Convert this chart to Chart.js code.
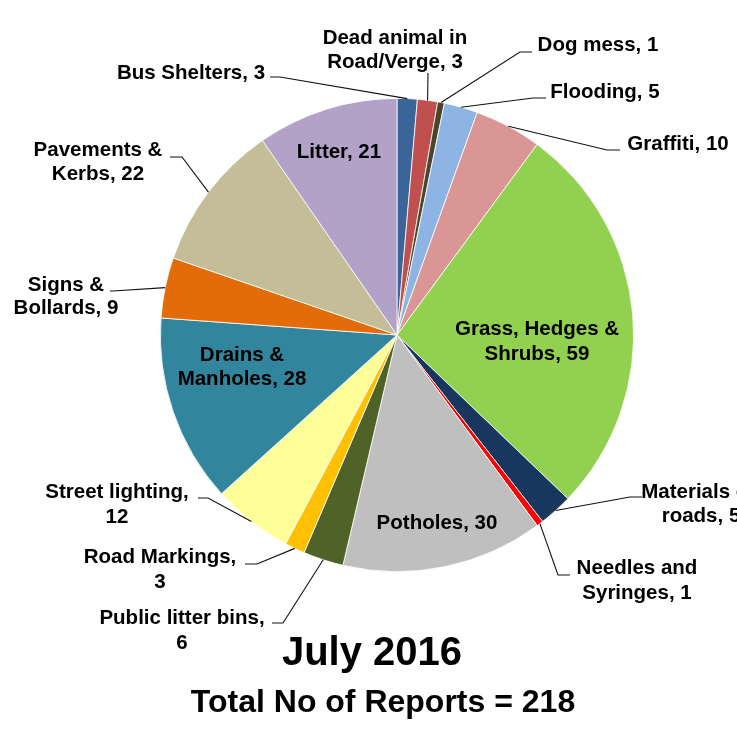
<!DOCTYPE html>
<html>
<head>
<meta charset="utf-8">
<script src="https://cdn.jsdelivr.net/npm/chart.js@4"></script>
<style>
  html, body { margin: 0; padding: 0; background: #fff; }
  canvas { display: block; }
</style>
</head>
<body>
<canvas id="pieChart" width="737" height="732"></canvas>
<script>
const categories = ['Bus Shelters', 'Dead animal in Road/Verge', 'Dog mess', 'Flooding', 'Graffiti',
    'Grass, Hedges & Shrubs', 'Materials on roads', 'Needles and Syringes', 'Potholes',
    'Public litter bins', 'Road Markings', 'Street lighting', 'Drains & Manholes',
    'Signs & Bollards', 'Pavements & Kerbs', 'Litter'];
const reports = [3, 3, 1, 5, 10, 59, 5, 1, 30, 6, 3, 12, 28, 9, 22, 21];
const sliceColors = ['#3A6599', '#C0504D', '#4A4529', '#8DB4E2', '#D99694', '#92D050', '#17375E',
    '#FF0000', '#BFBFBF', '#4F6228', '#FFC000', '#FFFF99', '#31859C', '#E36C09', '#C4BD97', '#B3A2C7'];
const titleText = 'July 2016';
const subtitleText = 'Total No of Reports = 218';

// where each label sits: words on first line, text centre, line centres, elbow points of the leader line
const labelLayout = [
    { words: 0, x: 191, y: [73], path: [[270, 77], [280, 77]] },
    { words: 3, x: 395, y: [38, 62], path: [[428, 73]] },
    { words: 0, x: 598, y: [45], path: [[532, 52], [520, 52]] },
    { words: 0, x: 605, y: [92], path: [[546, 98], [533, 98]] },
    { words: 0, x: 678, y: [144], path: [[620, 150], [607, 150]] },
    { words: 3, x: 537, y: [329, 354], inside: true },
    { words: 2, x: 701, y: [492, 516], path: [[642, 497], [630, 497]] },
    { words: 2, x: 637, y: [568, 593], path: [[570, 575], [558, 575]] },
    { words: 0, x: 437, y: [523], inside: true },
    { words: 3, x: 182, y: [618, 643], path: [[272, 623], [283, 623]] },
    { words: 2, x: 160, y: [557, 582], path: [[245, 564], [257, 564]] },
    { words: 2, x: 117, y: [492, 517], path: [[198, 498], [208, 498]] },
    { words: 2, x: 242, y: [355, 379], inside: true },
    { words: 2, x: 66, y: [285, 308], path: [[110, 291], [113, 291]] },
    { words: 2, x: 98, y: [150, 174], path: [[170, 157], [182, 157]] },
    { words: 0, x: 339, y: [152], inside: true }
];

function labelLines(i) {
    const full = categories[i] + ', ' + reports[i];
    const n = labelLayout[i].words;
    if (!n) return [full];
    const parts = full.split(' ');
    return [parts.slice(0, n).join(' '), parts.slice(n).join(' ')];
}

const calloutPlugin = {
    id: 'callouts',
    afterDraw(chart) {
        const ctx = chart.ctx;
        const arcs = chart.getDatasetMeta(0).data;
        ctx.save();
        arcs.forEach((arc, i) => {
            const lay = labelLayout[i];
            if (!lay.inside) {
                const mid = (arc.startAngle + arc.endAngle) / 2;
                const ax = arc.x + Math.cos(mid) * arc.outerRadius;
                const ay = arc.y + Math.sin(mid) * arc.outerRadius;
                ctx.beginPath();
                ctx.moveTo(lay.path[0][0], lay.path[0][1]);
                for (let k = 1; k < lay.path.length; k++) ctx.lineTo(lay.path[k][0], lay.path[k][1]);
                ctx.lineTo(ax, ay);
                ctx.strokeStyle = '#111';
                ctx.lineWidth = 1.1;
                ctx.stroke();
            }
            ctx.fillStyle = '#000';
            ctx.font = 'bold 20.5px "Liberation Sans", Arial, sans-serif';
            ctx.textAlign = 'center';
            ctx.textBaseline = 'middle';
            labelLines(i).forEach((line, k) => ctx.fillText(line, lay.x, lay.y[k]));
        });

        ctx.font = 'bold 40px "Liberation Sans", Arial, sans-serif';
        ctx.textAlign = 'center';
        ctx.textBaseline = 'alphabetic';
        ctx.fillText(titleText, 372, 665);
        ctx.font = 'bold 32px "Liberation Sans", Arial, sans-serif';
        ctx.fillText(subtitleText, 383, 712);
        ctx.restore();
    }
};

new Chart(document.getElementById('pieChart').getContext('2d'), {
    type: 'pie',
    data: {
        labels: categories,
        datasets: [{
            data: reports,
            backgroundColor: sliceColors,
            borderColor: '#ffffff',
            borderWidth: 0.8
        }]
    },
    options: {
        responsive: false,
        animation: false,
        layout: { padding: { left: 160, right: 103, top: 98, bottom: 160 } },
        plugins: {
            legend: { display: false },
            tooltip: { enabled: false }
        }
    },
    plugins: [calloutPlugin]
});
</script>
</body>
</html>
